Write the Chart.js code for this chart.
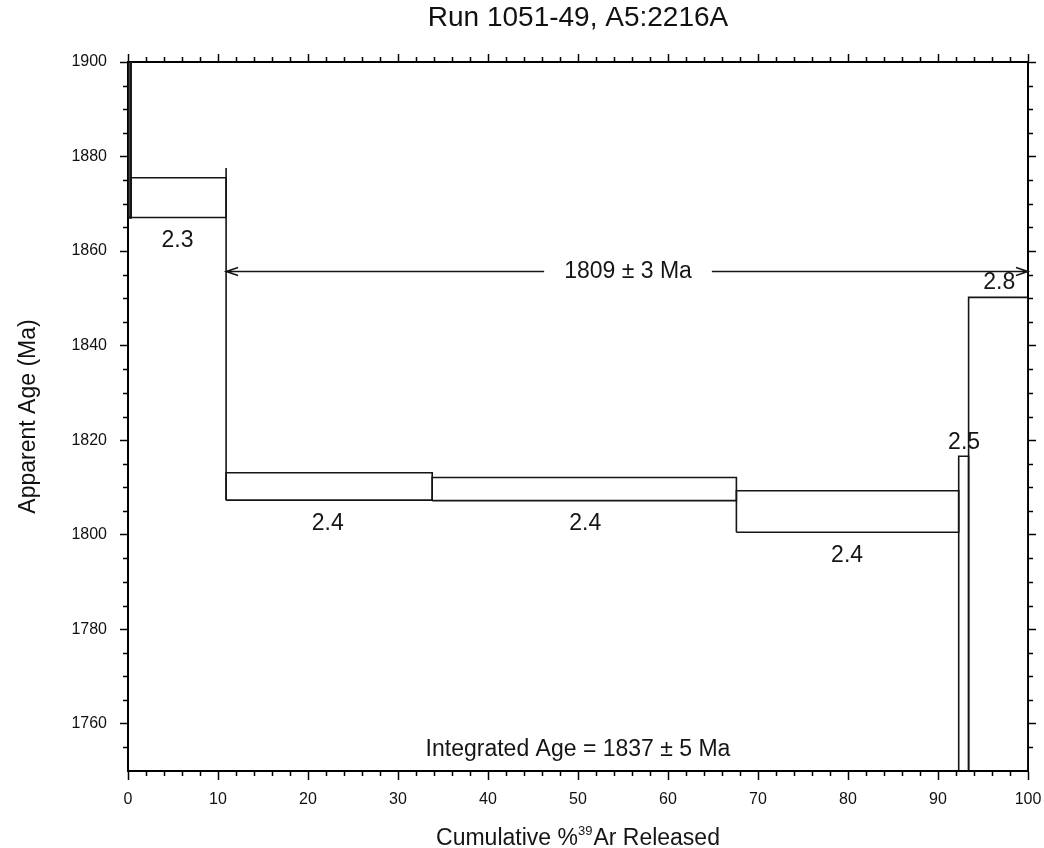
<!DOCTYPE html>
<html>
<head>
<meta charset="utf-8">
<script src="https://cdn.jsdelivr.net/npm/chart.js@4.4.1/dist/chart.umd.min.js"></script>
<style>
  body { margin: 0; background: #fff; }
  #wrap { width: 1044px; height: 848px; }
</style>
</head>
<body>
<div id="wrap"><canvas id="espectro"></canvas></div>
<script>
// Datos del espectro de edades (Ar-Ar, calentamiento por pasos)
const stepStart = [0, 0.3, 10.9, 33.8, 67.6, 92.3, 93.4];
const stepEnd   = [0.3, 10.9, 33.8, 67.6, 92.3, 93.4, 100];
const ageLow    = [1867.1, 1867.1, 1807.3, 1807.2, 1800.5, 1730, 1730];
const ageHigh   = [1930, 1875.5, 1813.1, 1812.1, 1809.3, 1816.6, 1850.2];
const stepLabels = ['', '2.3', '2.4', '2.4', '2.4', '2.5', '2.8'];
// donde va cada etiqueta (coordenadas de datos)
const labelX   = [0, 5.5, 22.2, 50.8, 79.9, 92.9, 96.8];
const labelAge = [0, 1862.2, 1802.4, 1802.4, 1795.5, 1819.5, 1853.3];

// linea vertical entre el paso 2 y el 3
const connectorX = 10.9;
const connectorAges = [1807.3, 1877.6];

// meseta y edad integrada
const plateauText = '1809 ± 3 Ma';
const plateauRange = [10.9, 100];
const plateauAge = 1855.7;
const integratedText = 'Integrated Age = 1837 ± 5 Ma';
const integratedPos = [50, 1754.5];

// titulo del eje x con superindice
const xTitle = ['Cumulative %', '39', 'Ar Released'];

const FONT = '"Liberation Sans", Arial, Helvetica, sans-serif';
const INK = '#151515';

const datasets = stepStart.map((s, i) => ({
    data: [
        {x: s, y: ageLow[i]},
        {x: s, y: ageHigh[i]},
        {x: stepEnd[i], y: ageHigh[i]},
        {x: stepEnd[i], y: ageLow[i]},
        {x: s, y: ageLow[i]}
    ],
    showLine: true,
    borderColor: INK,
    borderWidth: i === 0 ? 2.5 : 1.6,
    pointRadius: 0,
    fill: false
}));
datasets.push({
    data: connectorAges.map(a => ({x: connectorX, y: a})),
    showLine: true,
    borderColor: INK,
    borderWidth: 1.6,
    pointRadius: 0
});

// marcas menores en los cuatro lados
const minorTicks = {
    id: 'minorTicks',
    afterDraw(chart) {
        const {ctx, chartArea: a, scales: {x, y}} = chart;
        ctx.save();
        ctx.strokeStyle = '#000';
        ctx.lineWidth = 1.5;
        ctx.beginPath();
        for (let v = 2; v < 100; v += 2) {
            if (v % 10 === 0) continue;
            const px = Math.round(x.getPixelForValue(v)) + 0.5;
            ctx.moveTo(px, a.bottom); ctx.lineTo(px, a.bottom + 5);
            ctx.moveTo(px, a.top); ctx.lineTo(px, a.top - 5);
        }
        for (let v = 1755; v < 1900; v += 5) {
            if (v % 20 === 0) continue;
            const py = Math.round(y.getPixelForValue(v)) + 0.5;
            ctx.moveTo(a.left, py); ctx.lineTo(a.left - 5, py);
            ctx.moveTo(a.right, py); ctx.lineTo(a.right + 5, py);
        }
        ctx.stroke();
        ctx.restore();
    }
};

// flecha de la meseta y textos
const annotations = {
    id: 'annotations',
    afterDraw(chart) {
        const {ctx, chartArea: a, scales: {x, y}} = chart;
        ctx.save();
        ctx.fillStyle = INK;
        ctx.strokeStyle = INK;
        ctx.lineWidth = 1.5;
        ctx.font = '23px ' + FONT;
        ctx.textAlign = 'center';
        ctx.textBaseline = 'middle';

        stepLabels.forEach((t, i) => {
            if (!t) return;
            ctx.fillText(t, x.getPixelForValue(labelX[i]), y.getPixelForValue(labelAge[i]));
        });

        const x0 = x.getPixelForValue(plateauRange[0]);
        const x1 = x.getPixelForValue(plateauRange[1]);
        const py = Math.round(y.getPixelForValue(plateauAge)) + 0.5;
        const mid = 628;
        const half = ctx.measureText(plateauText).width / 2 + 20;
        ctx.fillText(plateauText, mid, py);
        ctx.beginPath();
        ctx.moveTo(x0, py); ctx.lineTo(mid - half, py);
        ctx.moveTo(mid + half, py); ctx.lineTo(x1, py);
        // puntas de flecha
        ctx.moveTo(x0 + 12, py - 4); ctx.lineTo(x0, py); ctx.lineTo(x0 + 12, py + 4);
        ctx.moveTo(x1 - 12, py - 4); ctx.lineTo(x1, py); ctx.lineTo(x1 - 12, py + 4);
        ctx.stroke();

        ctx.fillText(integratedText, x.getPixelForValue(integratedPos[0]), y.getPixelForValue(integratedPos[1]));

        // titulo del eje x: "Cumulative %39Ar Released"
        const big = '23px ' + FONT, small = '13px ' + FONT;
        ctx.textAlign = 'left';
        ctx.textBaseline = 'alphabetic';
        ctx.font = big;
        const w0 = ctx.measureText(xTitle[0]).width;
        const w2 = ctx.measureText(xTitle[2]).width;
        ctx.font = small;
        const w1 = ctx.measureText(xTitle[1]).width + 1;
        let tx = (a.left + a.right) / 2 - (w0 + w1 + w2) / 2;
        const base = 845;
        ctx.font = big;
        ctx.fillText(xTitle[0], tx, base);
        tx += w0;
        ctx.font = small;
        ctx.fillText(xTitle[1], tx, base - 10);
        tx += w1;
        ctx.font = big;
        ctx.fillText(xTitle[2], tx, base);
        ctx.restore();
    }
};

const ejeComun = {
    type: 'linear',
    grid: { drawOnChartArea: false, drawTicks: true, tickColor: '#000', tickWidth: 1.5 },
    border: { color: '#000', width: 2 }
};

// sin relleno extra de etiquetas en los bordes
const sinPadding = s => { s.paddingLeft = 0; s.paddingRight = 0; s.paddingTop = 0; s.paddingBottom = 0; };

new Chart(document.getElementById('espectro'), {
    type: 'scatter',
    data: { datasets: datasets },
    options: {
        responsive: true,
        maintainAspectRatio: false,
        animation: false,
        layout: { padding: 0 },
        plugins: {
            legend: { display: false },
            tooltip: { enabled: false },
            title: {
                display: true,
                fullSize: false,
                text: 'Run 1051-49, A5:2216A',
                color: '#111',
                font: { family: FONT, size: 28, weight: 'normal' },
                padding: { top: 1, bottom: 0 }
            }
        },
        scales: {
            x: {
                ...ejeComun,
                position: 'bottom',
                min: 0, max: 100,
                grid: { ...ejeComun.grid, tickLength: 9 },
                ticks: { stepSize: 10, color: '#111', padding: 10, font: { family: FONT, size: 16 }, maxRotation: 0 },
                afterFit: s => { s.height = 77; sinPadding(s); }
            },
            x2: {
                ...ejeComun,
                position: 'top',
                min: 0, max: 100,
                grid: { ...ejeComun.grid, tickLength: 8 },
                ticks: { stepSize: 10, display: false },
                afterFit: s => { s.height = 27.4; sinPadding(s); }
            },
            y: {
                ...ejeComun,
                position: 'left',
                min: 1750, max: 1900,
                grid: { ...ejeComun.grid, tickLength: 8 },
                ticks: {
                    stepSize: 20, includeBounds: false, color: '#111', padding: 13,
                    font: { family: FONT, size: 16 },
                    callback: v => String(v)
                },
                title: {
                    display: true,
                    text: 'Apparent Age (Ma)',
                    color: '#111',
                    font: { family: FONT, size: 23 },
                    padding: { top: 15, bottom: 0 }
                },
                afterFit: s => { s.width = 128; sinPadding(s); }
            },
            y2: {
                ...ejeComun,
                position: 'right',
                min: 1750, max: 1900,
                grid: { ...ejeComun.grid, tickLength: 8 },
                ticks: { stepSize: 20, includeBounds: false, display: false },
                afterFit: s => { s.width = 16; sinPadding(s); }
            }
        }
    },
    plugins: [minorTicks, annotations]
});
</script>
</body>
</html>
